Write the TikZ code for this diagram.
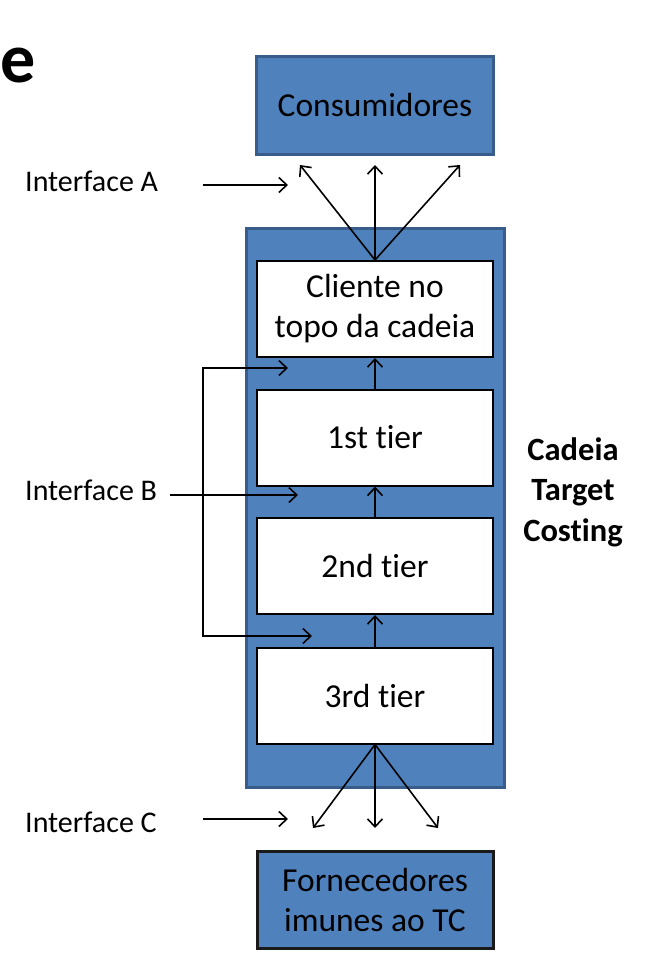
\documentclass[tikz,border=0pt]{standalone}
\usepackage{fontspec}
\setmainfont{Carlito}[RawFeature=-liga]
\usepackage{xcolor}
\usetikzlibrary{arrows.meta}
\definecolor{color_51247}{rgb}{0.309804,0.505882,0.741176}
\definecolor{color_22389}{rgb}{0.219608,0.364706,0.541176}
\definecolor{color_10433}{rgb}{0.101961,0.101961,0.101961}
\tikzset{
  bleu/.style={draw=color_22389, fill=color_51247, line width=3pt, align=center,
    font=\fontsize{33.5}{40}\selectfont},
  tier/.style={draw=black, fill=white, line width=2pt, minimum width=236pt,
    minimum height=96pt, align=center, font=\fontsize{33.5}{40}\selectfont},
  fleche/.style={-{Straight Barb[length=8pt,width=15pt]}, line width=1.6pt},
  iface/.style={anchor=west, inner sep=0pt, font=\fontsize{30}{36}\selectfont}
}

\begin{document}
\begin{tikzpicture}[x=1pt, y=-1pt]
	\useasboundingbox (0,0) rectangle (664,978);
	
	% Titre coupé
	\node[anchor=base west, inner sep=0pt] (titre) at (0,82)
	{\fontsize{70}{80}\selectfont\bfseries e};
	
	% Consumidores
	\node[bleu, minimum width=237pt, minimum height=98pt] (conso) at (375,105) {Consumidores};
	
	% Cadeia - rectangle bleu
	\node[bleu, minimum width=258pt, minimum height=559pt] (cadeia) at (375,507.5) {};
	
	% Les tiers
	\node[tier] (cliente) at (375,309) {Cliente no\\topo da cadeia};
	\node[tier] (tier1) at (375,437.5) {1st tier};
	\node[tier] (tier2) at (375,566) {2nd tier};
	\node[tier] (tier3) at (375,695.5) {3rd tier};
	
	% Fornecedores
	\node[bleu, draw=color_10433, minimum width=236pt, minimum height=97pt] (forn) at (375,899.5)
	{Fornecedores\\imunes ao TC};
	
	% Légende à droite
	\node[align=center, font=\fontsize{32.5}{40.5}\selectfont\bfseries] (tc) at (573,492)
	{Cadeia\\Target\\Costing};
	
	% Interfaces
	\node[iface] (ifA) at (25,181) {Interface A};
	\node[iface] (ifB) at (25,490) {Interface B};
	\node[iface] (ifC) at (25,822) {Interface C};
	
	% Flèches vers les consommateurs
	\coordinate (c1) at (300,165);
	\coordinate (c2) at (375,165);
	\coordinate (c3) at (460,165);
	\draw[fleche] (cliente.north) -- (c1);
	\draw[fleche] (cliente.north) -- (c2);
	\draw[fleche] (cliente.north) -- (c3);
	
	% Flèches entre les tiers
	\draw[fleche] (tier1.north) -- (cliente.south);
	\draw[fleche] (tier2.north) -- (tier1.south);
	\draw[fleche] (tier3.north) -- (tier2.south);
	
	% Flèches depuis les fournisseurs
	\coordinate (f1) at (313,828);
	\coordinate (f2) at (375,828);
	\coordinate (f3) at (438,828);
	\draw[fleche] (tier3.south) -- (f1);
	\draw[fleche] (tier3.south) -- (f2);
	\draw[fleche] (tier3.south) -- (f3);
	
	% Interface A
	\coordinate (a0) at (203,185);
	\coordinate (a1) at (288,185);
	\draw[fleche] (a0) -- (a1);
	
	% Interface B
	\coordinate (b0) at (170,495);
	\coordinate (b1) at (298,495);
	\draw[fleche] (b0) -- (b1);
	\coordinate (bh) at (288,368);
	\coordinate (bb) at (312,636);
	\draw[{Straight Barb[length=8pt,width=15pt]}-{Straight Barb[length=8pt,width=15pt]}, line width=1.6pt]
	(bh) -- (203,368) -- (203,636) -- (bb);
	
	% Interface C
	\coordinate (k0) at (203,819);
	\coordinate (k1) at (288,819);
	\draw[fleche] (k0) -- (k1);
\end{tikzpicture}
\end{document}
